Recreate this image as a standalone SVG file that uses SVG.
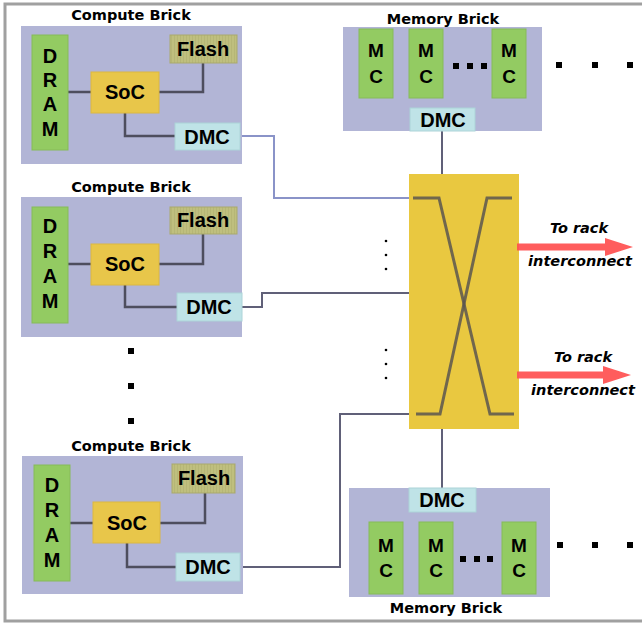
<svg xmlns="http://www.w3.org/2000/svg" width="642" height="624" viewBox="0 0 642 624">
<defs>
<pattern id="flashStripe" width="3" height="10" patternUnits="userSpaceOnUse">
<rect width="3" height="10" fill="#bfbf7e"/>
<rect width="1" height="10" fill="#b6b676"/>
</pattern>
<style>
.brick{fill:#b2b5d6}
.dram{fill:#93cb62;stroke:#86bb58;stroke-width:1}
.soc{fill:#e8c64a;stroke:#dcb840;stroke-width:1}
.flash{fill:url(#flashStripe);stroke:#a9a96c;stroke-width:1}
.dmc{fill:#bfe3e7;stroke:#acd4d8;stroke-width:1}
.sw{fill:#e9c840}
.lbl{font-family:"Liberation Sans",Arial,sans-serif;font-weight:bold;font-size:20px;fill:#000;text-anchor:middle}
.mc{font-size:19px}
.title{font-family:"DejaVu Sans",sans-serif;font-weight:bold;font-size:14.500px;fill:#000;text-anchor:middle}
.red{font-family:"DejaVu Sans",sans-serif;font-weight:bold;font-style:italic;font-size:14.500px;fill:#000;text-anchor:middle}
.ln{fill:none;stroke:#4e4e5e;stroke-width:2.5}
.cn{fill:none;stroke:#606078;stroke-width:2}
.cnb{fill:none;stroke:#8a93c8;stroke-width:2}
.x{fill:none;stroke:#5a5650;stroke-width:3;opacity:0.85}
.dot{fill:#000}
.arrow{fill:#ff4f4f;opacity:0.92}
</style>
</defs>
<rect width="642" height="624" fill="#fff"/>
<path d="M642,4 H5 V621 H642" fill="none" stroke="#a0a0a0" stroke-width="3"/>

<g id="connectors">
<path class="cnb" d="M240,136 H274 V198 H410"/>
<path class="cn" d="M242,307 H262 V293 H410"/>
<path class="cn" d="M240,567 H340 V414 H410"/>
<path class="cn" d="M442,131 V174"/>
<path class="cn" d="M442,429 V488"/>
</g>

<g id="compute1">
<text class="title" x="131" y="20">Compute Brick</text>
<rect class="brick" x="21" y="26" width="221" height="138"/>
<path class="ln" d="M68,92 H91 M159,92 H203 V63 M125,113 V136 H175"/>
<rect class="dram" x="32" y="35" width="36" height="115"/>
<text class="lbl" x="50" y="63">D</text><text class="lbl" x="50" y="87">R</text><text class="lbl" x="50" y="111">A</text><text class="lbl" x="50" y="136">M</text>
<rect class="soc" x="91" y="72" width="68" height="41"/>
<text class="lbl" x="125" y="99">SoC</text>
<rect class="flash" x="170" y="35" width="67" height="28"/>
<text class="lbl" x="203" y="56">Flash</text>
<rect class="dmc" x="175" y="123" width="65" height="27"/>
<text class="lbl" x="207" y="143.500">DMC</text>
</g>

<g id="compute2">
<text class="title" x="131" y="192">Compute Brick</text>
<rect class="brick" x="21" y="197" width="221" height="140"/>
<path class="ln" d="M68,264 H91 M159,264 H203 V234 M125,285 V307 H177"/>
<rect class="dram" x="32" y="207" width="36" height="116"/>
<text class="lbl" x="50" y="233">D</text><text class="lbl" x="50" y="258">R</text><text class="lbl" x="50" y="283">A</text><text class="lbl" x="50" y="308">M</text>
<rect class="soc" x="91" y="244" width="68" height="41"/>
<text class="lbl" x="125" y="271">SoC</text>
<rect class="flash" x="170" y="207" width="67" height="27"/>
<text class="lbl" x="203" y="227">Flash</text>
<rect class="dmc" x="177" y="293" width="65" height="28"/>
<text class="lbl" x="209" y="314">DMC</text>
</g>

<g id="vdots">
<rect class="dot" x="128" y="348" width="6" height="6"/>
<rect class="dot" x="128" y="383" width="6" height="6"/>
<rect class="dot" x="128" y="418" width="6" height="6"/>
</g>

<g id="compute3">
<text class="title" x="131" y="451">Compute Brick</text>
<rect class="brick" x="22" y="456" width="221" height="138"/>
<path class="ln" d="M70,523 H93 M160,523 H205 V493 M127,543 V567 H176"/>
<rect class="dram" x="34" y="465" width="36" height="116"/>
<text class="lbl" x="52" y="492">D</text><text class="lbl" x="52" y="517">R</text><text class="lbl" x="52" y="542">A</text><text class="lbl" x="52" y="567">M</text>
<rect class="soc" x="93" y="502" width="67" height="41"/>
<text class="lbl" x="127" y="530">SoC</text>
<rect class="flash" x="172" y="464" width="63" height="29"/>
<text class="lbl" x="204" y="485">Flash</text>
<rect class="dmc" x="176" y="553" width="64" height="28"/>
<text class="lbl" x="208" y="574">DMC</text>
</g>

<g id="memory1">
<text class="title" x="443" y="24">Memory Brick</text>
<rect class="brick" x="343" y="27" width="199" height="104"/>
<rect class="dram" x="359" y="29" width="34" height="69"/>
<text class="lbl mc" x="376" y="57">M</text><text class="lbl mc" x="376" y="83">C</text>
<rect class="dram" x="409" y="29" width="34" height="69"/>
<text class="lbl mc" x="426" y="57">M</text><text class="lbl mc" x="426" y="83">C</text>
<rect class="dram" x="492" y="29" width="34" height="69"/>
<text class="lbl mc" x="509" y="57">M</text><text class="lbl mc" x="509" y="83">C</text>
<rect class="dot" x="453" y="63" width="6" height="6"/>
<rect class="dot" x="467" y="63" width="6" height="6"/>
<rect class="dot" x="481" y="63" width="6" height="6"/>
<rect class="dmc" x="410" y="108" width="65" height="23"/>
<text class="lbl" x="443" y="127">DMC</text>
<rect class="dot" x="556" y="62" width="6" height="6"/>
<rect class="dot" x="592" y="62" width="6" height="6"/>
<rect class="dot" x="627" y="62" width="6" height="6"/>
</g>

<g id="switch">
<rect class="sw" x="409" y="174" width="110" height="255"/>
<path class="x" d="M413,198 H439 L490,414 H514"/>
<path class="x" d="M512,198 H487 L440,414 H416"/>
<circle class="dot" cx="386" cy="241" r="1.3"/>
<circle class="dot" cx="386" cy="255" r="1.3"/>
<circle class="dot" cx="386" cy="269" r="1.3"/>
<circle class="dot" cx="386" cy="350" r="1.3"/>
<circle class="dot" cx="386" cy="364" r="1.3"/>
<circle class="dot" cx="386" cy="378" r="1.3"/>
</g>

<g id="rack1">
<path class="arrow" d="M517,243.500 H605 V238 L633,247 L605,256 V250.500 H517 Z"/>
<text class="red" x="579" y="233">To rack</text>
<text class="red" x="580" y="266">interconnect</text>
</g>

<g id="rack2">
<path class="arrow" d="M517,371.500 H603 V366 L631,375 L603,384 V378.500 H517 Z"/>
<text class="red" x="583" y="362">To rack</text>
<text class="red" x="583" y="395">interconnect</text>
</g>

<g id="memory2">
<rect class="brick" x="349" y="488" width="201" height="109"/>
<rect class="dmc" x="409" y="488" width="67" height="24"/>
<text class="lbl" x="442" y="507">DMC</text>
<rect class="dram" x="369" y="522" width="34" height="72"/>
<text class="lbl mc" x="386" y="552">M</text><text class="lbl mc" x="386" y="577">C</text>
<rect class="dram" x="419" y="522" width="34" height="72"/>
<text class="lbl mc" x="436" y="552">M</text><text class="lbl mc" x="436" y="577">C</text>
<rect class="dram" x="502" y="522" width="34" height="72"/>
<text class="lbl mc" x="519" y="552">M</text><text class="lbl mc" x="519" y="577">C</text>
<rect class="dot" x="460" y="556" width="6" height="6"/>
<rect class="dot" x="474" y="556" width="6" height="6"/>
<rect class="dot" x="487" y="556" width="6" height="6"/>
<rect class="dot" x="557" y="542" width="6" height="6"/>
<rect class="dot" x="592" y="542" width="6" height="6"/>
<rect class="dot" x="627" y="542" width="6" height="6"/>
<text class="title" x="446" y="613">Memory Brick</text>
</g>
</svg>
